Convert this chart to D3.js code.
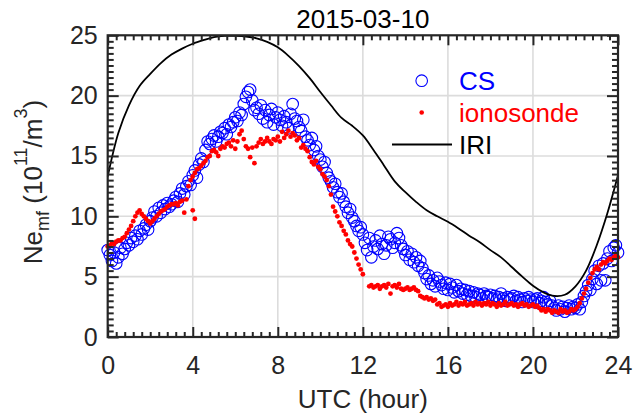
<!DOCTYPE html>
<html><head><meta charset="utf-8">
<script src="https://cdn.jsdelivr.net/npm/d3@7/dist/d3.min.js"></script>
<style>body{margin:0;background:#fff;} text{font-family:"Liberation Sans",Arial,Helvetica,sans-serif;}</style>
</head><body><svg id="c" width="644" height="416"></svg>
<script>
// ---- data ----
const titleText = "2015-03-10";
const xTicks = [0, 4, 8, 12, 16, 20, 24];
const yTicks = [0, 5, 10, 15, 20, 25];
const csHour = [
0.0,0.1,0.2,0.3,0.4,0.5,0.6,0.7,0.8,0.9,
1.0,1.1,1.2,1.3,1.4,1.5,1.6,1.7,1.8,1.9,
2.0,2.1,2.2,2.3,2.4,2.5,2.6,2.7,2.8,2.9,
3.0,3.1,3.2,3.3,3.4,3.5,3.6,3.7,3.8,3.9,
4.0,4.1,4.2,4.3,4.4,4.5,4.6,4.7,4.8,4.9,
5.0,5.1,5.2,5.3,5.4,5.5,5.6,5.7,5.8,5.9,
6.0,6.1,6.2,6.3,6.4,6.5,6.6,6.7,6.8,6.9,
7.0,7.1,7.2,7.3,7.4,7.5,7.6,7.7,7.8,7.9,
8.0,8.1,8.2,8.3,8.4,8.5,8.6,8.7,8.8,8.9,
9.0,9.1,9.2,9.3,9.4,9.5,9.6,9.7,9.8,9.9,
10.0,10.1,10.2,10.3,10.4,10.5,10.6,10.7,10.8,10.9,
11.0,11.1,11.2,11.3,11.4,11.5,11.6,11.7,11.8,11.9,
12.0,12.1,12.2,12.3,12.4,12.5,12.6,12.7,12.8,12.9,
13.0,13.1,13.2,13.3,13.4,13.5,13.6,13.7,13.8,13.9,
14.0,14.1,14.2,14.3,14.4,14.5,14.6,14.7,14.8,14.9,
15.0,15.1,15.2,15.3,15.4,15.5,15.6,15.7,15.8,15.9,
16.0,16.1,16.2,16.3,16.4,16.5,16.6,16.7,16.8,16.9,
17.0,17.1,17.2,17.3,17.4,17.5,17.6,17.7,17.8,17.9,
18.0,18.1,18.2,18.3,18.4,18.5,18.6,18.7,18.8,18.9,
19.0,19.1,19.2,19.3,19.4,19.5,19.6,19.7,19.8,19.9,
20.0,20.1,20.2,20.3,20.4,20.5,20.6,20.7,20.8,20.9,
21.0,21.1,21.2,21.3,21.4,21.5,21.6,21.7,21.8,21.9,
22.0,22.1,22.2,22.3,22.4,22.5,22.6,22.7,22.8,22.9,
23.0,23.1,23.2,23.3,23.4,23.5,23.6,23.7,23.8,23.9,
24.0];
const csNe = [
7.2,6.8,6.3,7.0,6.1,6.6,7.4,6.9,7.3,7.8,
7.6,8.2,7.9,8.4,8.1,8.8,8.5,9.0,9.3,8.9,
9.6,9.9,10.4,10.0,10.7,10.3,10.9,10.6,11.1,10.8,
11.0,11.3,11.6,11.2,11.9,12.3,11.8,12.5,12.9,12.6,
13.4,13.8,13.2,14.3,14.8,14.5,15.5,16.2,16.0,16.4,
16.7,16.2,16.6,17.0,16.9,17.3,16.8,17.6,17.4,17.8,
18.2,17.9,18.6,18.4,19.3,19.9,20.3,20.5,19.6,18.8,
19.0,18.5,19.2,18.1,18.8,17.8,18.4,18.9,17.6,18.2,
18.6,18.0,17.5,18.3,17.8,17.3,18.5,19.3,18.1,17.9,
17.4,17.1,18.0,16.6,16.3,15.9,16.5,15.5,15.8,15.0,
14.7,14.1,14.5,13.6,13.2,12.9,12.4,12.7,12.0,11.6,
11.9,11.2,10.8,10.3,10.6,9.9,9.6,9.2,8.8,9.1,
8.5,7.8,7.2,8.2,6.6,7.5,8.0,7.3,8.4,7.7,
6.9,7.6,8.3,8.1,7.4,7.8,8.6,8.2,7.6,7.3,
6.8,7.1,6.4,6.9,6.2,6.6,5.9,6.3,5.7,5.3,
4.8,5.1,4.4,4.7,4.2,4.9,4.6,4.3,4.0,4.5,
3.9,4.4,4.1,3.7,4.3,3.8,4.0,3.6,3.9,3.5,
3.8,3.4,3.7,3.3,3.6,3.5,3.2,3.6,3.4,3.3,
3.5,3.2,3.4,3.1,3.3,3.6,3.2,3.0,3.3,3.1,
3.2,3.4,3.0,3.3,3.1,2.9,3.2,3.0,3.3,3.1,
2.9,3.1,3.2,2.8,3.0,3.3,2.9,2.7,3.0,2.6,
2.4,2.2,2.6,2.3,2.5,2.1,2.4,2.6,2.3,2.5,
2.4,2.7,2.3,2.9,3.4,3.8,4.3,3.9,4.8,5.5,
4.4,5.9,4.7,6.1,4.7,6.5,7.1,6.3,7.4,7.6,
7.0];
const ionoHour = [
0.0,0.1,0.2,0.3,0.4,0.5,0.6,0.7,0.8,0.9,
1.0,1.1,1.2,1.3,1.4,1.5,1.6,1.7,1.8,1.9,
2.0,2.1,2.2,2.3,2.4,2.5,2.6,2.7,2.8,2.9,
3.0,3.1,3.2,3.3,3.4,3.5,3.6,3.7,3.8,3.9,
4.0,4.1,4.0,4.1,4.2,4.3,4.4,4.5,4.6,4.7,4.8,4.9,
5.0,5.1,5.2,5.3,5.4,5.5,5.6,5.7,5.8,5.9,
6.0,6.1,6.2,6.3,6.4,6.5,6.6,6.7,6.8,6.9,
7.0,7.1,7.2,7.3,7.4,7.5,7.6,7.7,7.8,7.9,
8.0,8.1,8.2,8.3,8.4,8.5,8.6,8.7,8.8,8.9,
9.0,9.1,9.2,9.3,9.4,9.5,9.6,9.7,9.8,9.9,
10.0,10.1,10.2,10.3,10.4,10.5,10.6,10.7,10.8,10.9,
11.0,11.1,11.2,11.3,11.4,11.5,11.6,11.7,11.8,11.9,
12.0,12.3,12.4,12.5,12.6,12.7,12.8,12.9,
13.0,13.1,13.2,13.3,13.4,13.5,13.6,13.7,13.8,13.9,
14.0,14.1,14.2,14.3,14.4,14.5,14.6,14.7,14.8,14.9,
15.0,15.1,15.2,15.3,15.4,15.5,15.6,15.7,15.8,15.9,
16.0,16.1,16.2,16.3,16.4,16.5,16.6,16.7,16.8,16.9,
17.0,17.1,17.2,17.3,17.4,17.5,17.6,17.7,17.8,17.9,
18.0,18.1,18.2,18.3,18.4,18.5,18.6,18.7,18.8,18.9,
19.0,19.1,19.2,19.3,19.4,19.5,19.6,19.7,19.8,19.9,
20.0,20.1,20.2,20.3,20.4,20.5,20.6,20.7,20.8,20.9,
21.0,21.1,21.2,21.3,21.4,21.5,21.6,21.7,21.8,21.9,
22.0,22.1,22.2,22.3,22.4,22.5,22.6,22.7,22.8,22.9,
23.0,23.1,23.2,23.3,23.4,23.5,23.6,23.7,23.8,23.9,
24.0];
const ionoNe = [
7.5,7.6,7.8,7.7,7.9,8.0,8.0,8.2,8.3,8.6,
8.9,9.2,9.6,10.0,10.3,10.5,10.2,10.0,9.8,9.6,
9.4,9.6,9.8,10.0,10.2,10.4,10.5,10.6,10.8,10.9,
11.0,11.0,11.1,10.9,11.2,11.3,10.3,11.4,12.5,13.0,
10.5,9.8,13.3,13.6,13.9,14.0,14.2,14.4,14.6,14.9,15.0,15.4,
15.5,15.3,15.0,15.6,15.8,15.7,16.0,16.1,15.8,16.3,
15.6,16.2,16.8,17.1,16.4,15.8,15.6,14.9,15.7,14.4,
15.8,16.1,16.4,16.0,16.2,16.5,16.2,16.0,16.4,16.3,
16.6,16.2,17.0,16.5,16.8,17.1,16.6,16.9,16.7,16.3,
16.5,15.7,15.9,15.6,15.4,14.9,14.5,14.3,14.6,14.1,
13.9,13.5,13.3,13.0,12.5,11.8,10.8,10.4,10.0,9.5,
9.2,8.8,8.5,8.0,7.7,7.5,7.0,6.5,6.0,5.6,
5.2,4.2,4.3,4.1,4.2,4.3,4.0,4.2,
4.3,4.1,4.4,3.6,4.2,4.3,4.1,4.4,4.0,3.9,
4.0,4.1,3.9,4.0,4.1,3.9,3.8,3.4,3.3,3.2,
3.3,3.1,3.2,3.0,3.1,2.7,2.8,2.5,2.6,2.7,
2.5,2.8,2.6,2.7,2.9,2.6,2.8,2.7,2.9,2.6,
2.7,2.8,2.6,2.9,2.7,2.8,2.6,2.8,2.7,2.9,
2.6,2.8,2.7,2.5,2.8,2.6,2.7,2.9,2.6,2.7,
2.8,2.6,2.7,2.5,2.7,2.8,2.6,2.7,2.5,2.6,
2.7,2.5,2.6,2.4,2.2,2.3,2.1,2.3,2.2,2.0,
2.2,2.1,2.0,2.3,2.1,2.2,2.0,2.1,2.3,2.2,
2.3,2.5,2.8,3.2,3.6,4.0,4.5,4.9,5.3,5.6,
5.8,5.6,6.0,6.2,6.1,6.3,6.5,6.4,6.6,6.8,
6.6];
const iriHour = [0,0.5,1,1.5,2,2.5,3,3.5,4,4.5,5,5.5,6,6.5,7,7.5,8,8.5,9,9.5,10,10.5,11,11.5,12,12.5,13,13.5,14,14.5,15,15.5,16,16.5,17,17.5,18,18.5,19,19.5,20,20.5,21,21.5,22,22.5,23,23.5,24];
const iriNe = [13.3,16.9,19.2,20.8,21.8,22.7,23.4,23.9,24.3,24.6,24.85,24.95,24.95,24.9,24.75,24.45,24.0,23.3,22.45,21.45,20.3,19.2,18.15,17.5,16.7,15.5,14.2,12.9,12.0,11.2,10.5,10.0,9.55,9.0,8.4,7.85,7.2,6.6,5.8,5.0,4.25,3.7,3.4,3.5,4.2,5.5,7.6,10.25,13.4];
const legendLabels = ["CS", "ionosonde", "IRI"];

// ---- drawing ----
const svg = d3.select("#c");
const L = 107.7, R = 618, T = 35.3, B = 337;
const x = d3.scaleLinear().domain([0, 24]).range([L, R]);
const y = d3.scaleLinear().domain([0, 25]).range([B, T]);
const axisCol = "#262626";

// grid
const grid = svg.append("g");
grid.selectAll(".gx").data(xTicks.slice(1, -1)).enter().append("line")
  .attr("x1", d => x(d)).attr("x2", d => x(d)).attr("y1", T).attr("y2", B)
  .attr("stroke", "#dcdcdc").attr("stroke-width", 1.6);
grid.selectAll(".gy").data(yTicks.slice(1, -1)).enter().append("line")
  .attr("y1", d => y(d)).attr("y2", d => y(d)).attr("x1", L).attr("x2", R)
  .attr("stroke", "#dcdcdc").attr("stroke-width", 1.6);

// CS circles
svg.append("g").selectAll("circle").data(csHour.map((h, i) => [h, csNe[i]])).enter()
  .append("circle").attr("cx", d => x(d[0])).attr("cy", d => y(d[1])).attr("r", 5.8)
  .attr("fill", "none").attr("stroke", "#0000ff").attr("stroke-width", 1.1);
// ionosonde dots
svg.append("g").selectAll("circle").data(ionoHour.map((h, i) => [h, ionoNe[i]])).enter()
  .append("circle").attr("cx", d => x(d[0])).attr("cy", d => y(d[1])).attr("r", 2.4)
  .attr("fill", "#ff0000");
// IRI line
svg.append("path").datum(iriHour.map((h, i) => [h, iriNe[i]]))
  .attr("d", d3.line().x(d => x(d[0])).y(d => y(d[1])).curve(d3.curveCatmullRom))
  .attr("fill", "none").attr("stroke", "#000").attr("stroke-width", 1.8);

// axes
const xMinor = d3.range(0, 24.01, 0.4).filter(v => Math.abs(v / 4 - Math.round(v / 4)) > 1e-6);
const yMinor = d3.range(0, 25.01, 0.5).filter(v => Math.abs(v / 5 - Math.round(v / 5)) > 1e-6);
function styleAxis(g) {
  g.select(".domain").remove();
  g.selectAll("line").attr("stroke", axisCol).attr("stroke-width", 2);
  g.selectAll("text").attr("fill", axisCol).style("font-size", "25px")
    .style("font-family", '"Liberation Sans", Arial, sans-serif');
}
svg.append("g").attr("transform", `translate(0,${B})`)
  .call(d3.axisBottom(x).tickValues(xTicks).tickSize(-10).tickSizeOuter(0).tickPadding(19).tickFormat(d3.format("d"))).call(styleAxis);
svg.append("g").attr("transform", `translate(0,${B})`)
  .call(d3.axisBottom(x).tickValues(xMinor).tickSize(-5).tickSizeOuter(0).tickFormat("")).call(styleAxis);
svg.append("g").attr("transform", `translate(0,${T})`)
  .call(d3.axisTop(x).tickValues(xTicks).tickSize(-10).tickSizeOuter(0).tickFormat("")).call(styleAxis);
svg.append("g").attr("transform", `translate(0,${T})`)
  .call(d3.axisTop(x).tickValues(xMinor).tickSize(-5).tickSizeOuter(0).tickFormat("")).call(styleAxis);
svg.append("g").attr("transform", `translate(${L},0)`)
  .call(d3.axisLeft(y).tickValues(yTicks).tickSize(-11).tickSizeOuter(0).tickPadding(10).tickFormat(d3.format("d"))).call(styleAxis);
svg.append("g").attr("transform", `translate(${L},0)`)
  .call(d3.axisLeft(y).tickValues(yMinor).tickSize(-6).tickSizeOuter(0).tickFormat("")).call(styleAxis);
svg.append("g").attr("transform", `translate(${R},0)`)
  .call(d3.axisRight(y).tickValues(yTicks).tickSize(-11).tickSizeOuter(0).tickFormat("")).call(styleAxis);
svg.append("g").attr("transform", `translate(${R},0)`)
  .call(d3.axisRight(y).tickValues(yMinor).tickSize(-6).tickSizeOuter(0).tickFormat("")).call(styleAxis);

svg.append("rect").attr("x", L).attr("y", T).attr("width", R - L).attr("height", B - T)
  .attr("fill", "none").attr("stroke", axisCol).attr("stroke-width", 2.2);

// title
svg.append("text").attr("x", (L + R) / 2).attr("y", 28).attr("text-anchor", "middle")
  .style("font-size", "26px").attr("fill", "#000").text(titleText);
// x label
svg.append("text").attr("x", (L + R) / 2).attr("y", 408).attr("text-anchor", "middle")
  .style("font-size", "26px").attr("fill", axisCol).text("UTC (hour)");
// y label
const yl = svg.append("text").attr("transform", "translate(42,182) rotate(-90)")
  .attr("text-anchor", "middle").style("font-size", "26px").attr("fill", axisCol);
yl.append("tspan").text("Ne");
yl.append("tspan").attr("dy", 7).style("font-size", "18px").text("mf");
yl.append("tspan").attr("dy", -7).text(" (10");
yl.append("tspan").attr("dy", -15).style("font-size", "18px").text("11");
yl.append("tspan").attr("dy", 15).text("/m");
yl.append("tspan").attr("dy", -15).style("font-size", "18px").text("3");
yl.append("tspan").attr("dy", 15).text(")");

// legend
const lg = svg.append("g");
const legY = [80.7, 112.5, 144.5];
const legColors = ["#0000ff", "#ff0000", "#000"];
lg.append("circle").attr("cx", 421.7).attr("cy", legY[0]).attr("r", 5.8)
  .attr("fill", "none").attr("stroke", "#0000ff").attr("stroke-width", 1.1);
lg.append("circle").attr("cx", 421.7).attr("cy", legY[1]).attr("r", 2.3).attr("fill", "#ff0000");
lg.append("line").attr("x1", 392).attr("x2", 452).attr("y1", legY[2]).attr("y2", legY[2])
  .attr("stroke", "#000").attr("stroke-width", 1.8);
lg.selectAll("text").data(legendLabels).enter().append("text")
  .attr("x", 459).attr("y", (d, i) => legY[i] + 9.5)
  .style("font-size", "26px").attr("fill", (d, i) => legColors[i]).text(d => d);
</script></body></html>
